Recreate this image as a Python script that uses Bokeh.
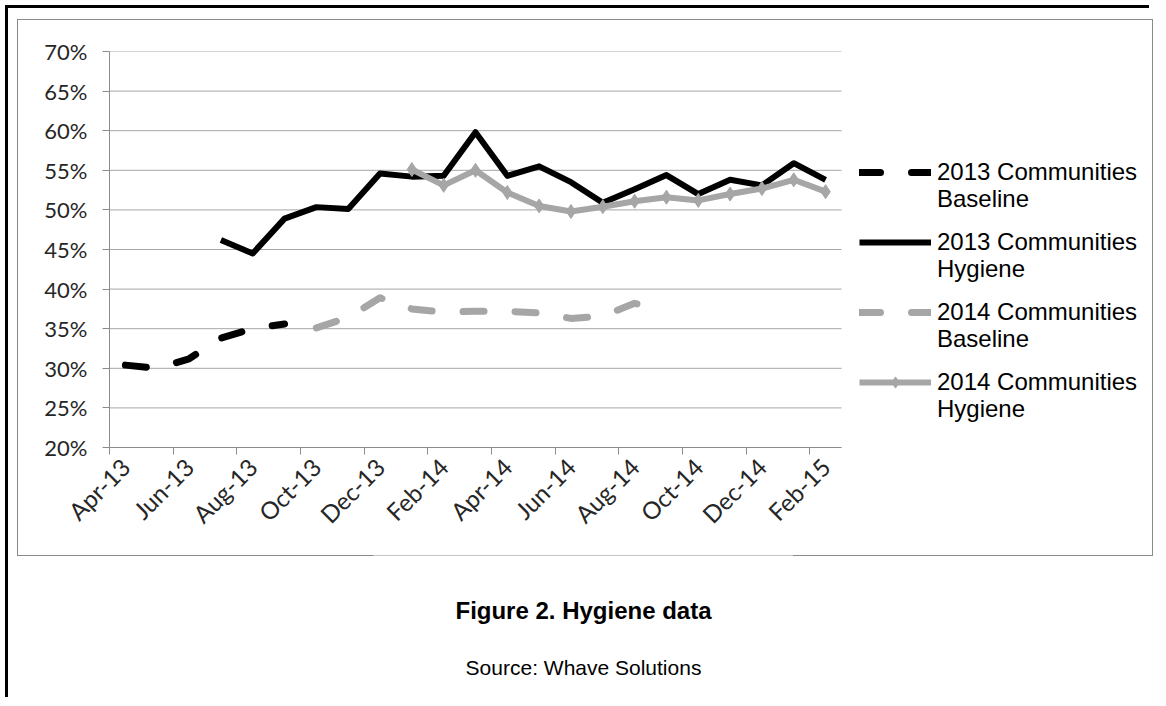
import math
from bokeh.plotting import figure
from bokeh.layouts import column
from bokeh.models import (FixedTicker, PrintfTickFormatter, Legend, LegendItem,
                          Label, Range1d, ColumnDataSource)
from bokeh.embed import file_html
from bokeh.resources import INLINE

months = ["Apr-13", "May-13", "Jun-13", "Jul-13", "Aug-13", "Sep-13", "Oct-13",
          "Nov-13", "Dec-13", "Jan-14", "Feb-14", "Mar-14", "Apr-14", "May-14",
          "Jun-14", "Jul-14", "Aug-14", "Sep-14", "Oct-14", "Nov-14", "Dec-14",
          "Jan-15", "Feb-15"]
N = float("nan")
baseline_2013 = [30.4, 30.0, 31.2, 33.8, 35.0, 35.6, N, N, N, N, N, N, N, N, N, N, N, N, N, N, N, N, N]
hygiene_2013 = [N, N, N, 46.2, 44.5, 48.9, 50.35, 50.1, 54.6, 54.2, 54.3, 59.8, 54.3, 55.5,
                53.5, 50.9, 52.6, 54.4, 52.0, 53.8, 53.1, 55.9, 53.8]
baseline_2014 = [N, N, N, N, N, N, 35.1, 36.4, 38.9, 37.5, 37.1, 37.2, 37.2, 37.0, 36.3,
                 36.6, 38.2, 37.3, N, N, N, N, N]
hygiene_2014 = [N, N, N, N, N, N, N, N, N, 55.1, 53.1, 55.0, 52.2, 50.5, 49.8, 50.4, 51.1,
                51.6, 51.2, 52.0, 52.7, 53.8, 52.3]
y_ticks = [20, 25, 30, 35, 40, 45, 50, 55, 60, 65, 70]
series_names = ["2013 Communities\nBaseline", "2013 Communities\nHygiene",
                "2014 Communities\nBaseline", "2014 Communities\nHygiene"]
title_text = "Figure 2. Hygiene data"
source_text = "Source: Whave Solutions"

BLACK = "#000000"
GRAY = "#a6a6a6"
GRID = "#a6a6a6"
AXIS = "#8c8c8c"
TICK_FONT = "Lato"
TEXT_FONT = "Liberation Sans"

# layout geometry (pixels)
CHART_W, CHART_H = 1134, 535
BORDER_L, BORDER_R, BORDER_T, BORDER_B = 91, 4, 31, 108
FRAME_W = CHART_W - BORDER_L - BORDER_R
PLOT_AREA_W = 732          # width of the plotted month area inside the frame
n = len(months)
x_lo = -0.5
x_hi = x_lo + n * FRAME_W / PLOT_AREA_W

x = list(range(n))
src = ColumnDataSource(dict(x=x, b13=baseline_2013, h13=hygiene_2013,
                            b14=baseline_2014, h14=hygiene_2014))
grid_src = ColumnDataSource(dict(y=y_ticks, x0=[x_lo] * len(y_ticks),
                                 x1=[n - 0.5] * len(y_ticks)))

p = figure(width=CHART_W, height=CHART_H, output_backend="svg", toolbar_location=None,
           x_range=Range1d(x_lo, x_hi), y_range=Range1d(20, 70),
           min_border_left=BORDER_L, min_border_right=BORDER_R,
           min_border_top=BORDER_T, min_border_bottom=BORDER_B,
           margin=(12, 0, 0, 10), styles={"outline": "1px solid #8a8a8a"})
p.outline_line_color = None
p.background_fill_color = "white"
p.border_fill_color = "white"

# horizontal gridlines over the plotted months only
p.xgrid.grid_line_color = None
p.ygrid.grid_line_color = None
p.segment(x0="x0", x1="x1", y0="y", y1="y", source=grid_src,
          line_color=GRID, line_width=1)

# y axis
p.yaxis.ticker = FixedTicker(ticks=y_ticks)
p.yaxis.formatter = PrintfTickFormatter(format="%d%%")
p.yaxis.axis_line_color = AXIS
p.yaxis.major_tick_line_color = AXIS
p.yaxis.major_tick_out = 7
p.yaxis.major_tick_in = 0
p.yaxis.minor_tick_line_color = None
p.yaxis.major_label_standoff = 15
p.yaxis.major_label_text_font = TICK_FONT
p.yaxis.major_label_text_font_size = "22px"
p.yaxis.major_label_text_color = "#262626"

# x axis
label_ticks = x[::2]
boundaries = [i - 0.5 for i in x[::2]]
p.xaxis.ticker = FixedTicker(ticks=label_ticks, minor_ticks=boundaries)
p.xaxis.major_label_overrides = {i: months[i] for i in label_ticks}
p.xaxis.bounds = (x_lo, n - 0.5)
p.xaxis.axis_line_color = AXIS
p.xaxis.major_tick_line_color = None
p.xaxis.minor_tick_line_color = AXIS
p.xaxis.minor_tick_out = 7
p.xaxis.minor_tick_in = 0
p.xaxis.major_label_orientation = math.pi / 4
p.xaxis.major_label_standoff = 8
p.xaxis.major_label_text_font = TICK_FONT
p.xaxis.major_label_text_font_size = "24px"
p.xaxis.major_label_text_color = "#262626"

r1 = p.line("x", "b13", source=src, line_color=BLACK, line_width=7,
            line_dash="21 31", line_cap="round", line_join="round")
r2 = p.line("x", "h13", source=src, line_color=BLACK, line_width=6,
            line_join="round")
r3 = p.line("x", "b14", source=src, line_color=GRAY, line_width=7,
            line_dash="21 31", line_cap="round", line_join="round")
r4 = p.line("x", "h14", source=src, line_color=GRAY, line_width=6,
            line_join="round")
r4m = p.scatter("x", "h14", source=src, marker="diamond", size=14,
                fill_color=GRAY, line_color=GRAY)

# legend: swatch beside the first line of each name, second line set underneath
first_lines = [s.split("\n")[0] for s in series_names]
second_lines = [s.split("\n")[1] for s in series_names]
legend_style = dict(orientation="vertical", padding=0, margin=0, spacing=42,
                    glyph_height=28, label_height=28,
                    border_line_color=None, background_fill_alpha=0,
                    label_text_font=TEXT_FONT, label_text_font_size="24px",
                    label_text_color="#000000")
legend_a = Legend(items=[LegendItem(label=first_lines[0], renderers=[r1]),
                         LegendItem(label=first_lines[1], renderers=[r2]),
                         LegendItem(label=first_lines[2], renderers=[r3]),
                         LegendItem(label=first_lines[3], renderers=[r4, r4m])],
                  location=(750, 51), glyph_width=72, label_standoff=6, **legend_style)
legend_b = Legend(items=[LegendItem(label=t, renderers=[r2]) for t in second_lines],
                  location=(828, 24), glyph_width=0, label_standoff=0, **legend_style)
p.add_layout(legend_a, "center")
p.add_layout(legend_b, "center")

# caption below the chart box
CAP_W, CAP_H = 420, 145
cap_top = 8 + 12 + CHART_H
cap_left = 583 - CAP_W // 2
cap = figure(width=CAP_W, height=CAP_H, output_backend="svg", toolbar_location=None,
             x_range=Range1d(0, CAP_W), y_range=Range1d(0, CAP_H),
             x_axis_location=None, y_axis_location=None,
             min_border=0, min_border_left=0, min_border_right=0,
             min_border_top=0, min_border_bottom=0)
cap.outline_line_color = None
cap.xgrid.visible = False
cap.ygrid.visible = False
cap.add_layout(Label(x=CAP_W / 2, y=CAP_H - (610 - cap_top), x_units="screen", y_units="screen",
                     text=title_text, text_align="center",
                     text_baseline="middle", text_font=TEXT_FONT, text_font_style="bold",
                     text_font_size="24px", text_color="#000000"))
cap.add_layout(Label(x=CAP_W / 2, y=CAP_H - (667 - cap_top), x_units="screen", y_units="screen",
                     text=source_text, text_align="center",
                     text_baseline="middle", text_font=TEXT_FONT,
                     text_font_size="21px", text_color="#000000"))
cap_box = column(cap, margin=(0, 0, 0, cap_left - 8))

page = column(p, cap_box, margin=(8, 0, 0, 8), spacing=0,
              styles={"box-shadow": "-3px -3px 0 0 #000000", "background": "white"})

open("out.html", "w").write(file_html(page, INLINE))
